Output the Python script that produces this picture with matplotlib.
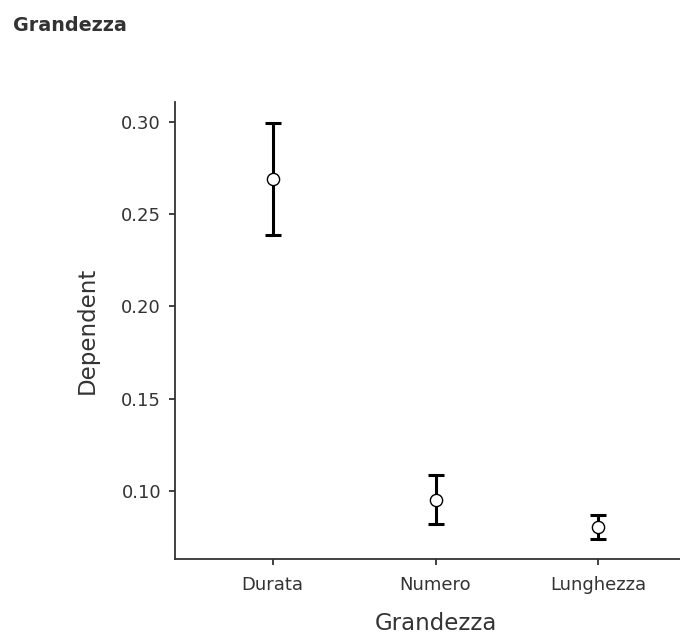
import matplotlib.pyplot as plt

plt.rcParams['font.family'] = ['DejaVu Sans']

# dati
categorie = ['Durata', 'Numero', 'Lunghezza']
media = [0.2688, 0.0951, 0.0806]
superiore = [0.2993, 0.1086, 0.0868]
inferiore = [0.2385, 0.0819, 0.0741]

x = list(range(1, len(categorie) + 1))
err_basso = [m - l for m, l in zip(media, inferiore)]
err_alto = [u - m for m, u in zip(media, superiore)]

fig = plt.figure(figsize=(6.8, 6.35), dpi=100)
ax = fig.add_axes([175 / 680, 1 - 559 / 635, (696 - 175) / 680, (559 - 102) / 635])

ax.errorbar(x, media, yerr=[err_basso, err_alto], fmt='none',
            ecolor='black', elinewidth=2.2, capsize=6, capthick=2.2, zorder=2)
ax.plot(x, media, 'o', markersize=8.8, markerfacecolor='white',
        markeredgecolor='black', markeredgewidth=1.0, zorder=3)

ax.set_xlim(0.4, 3.6)
ax.set_ylim(0.0632, 0.3107)
ax.set_xticks(x)
ax.set_xticklabels(categorie)
ax.set_yticks([0.10, 0.15, 0.20, 0.25, 0.30])
ax.set_yticklabels(['0.10', '0.15', '0.20', '0.25', '0.30'])

for s in ['top', 'right']:
    ax.spines[s].set_visible(False)
for s in ['left', 'bottom']:
    ax.spines[s].set_color('#333333')
    ax.spines[s].set_linewidth(1.3)
ax.tick_params(axis='both', direction='out', length=4, width=1.3,
               color='#333333', labelsize=13, labelcolor='#333333')
ax.tick_params(axis='y', pad=6)
ax.tick_params(axis='x', pad=8)

ax.set_xlabel('Grandezza', fontsize=16.5, color='#333333', labelpad=13)
ax.set_ylabel('Dependent', fontsize=16.5, color='#333333', labelpad=16)

fig.text(13 / 680, 1 - 16 / 635, 'Grandezza', fontsize=13.8, fontweight='bold',
         color='#333333', ha='left', va='top')

fig.savefig('out.png', dpi=100)
